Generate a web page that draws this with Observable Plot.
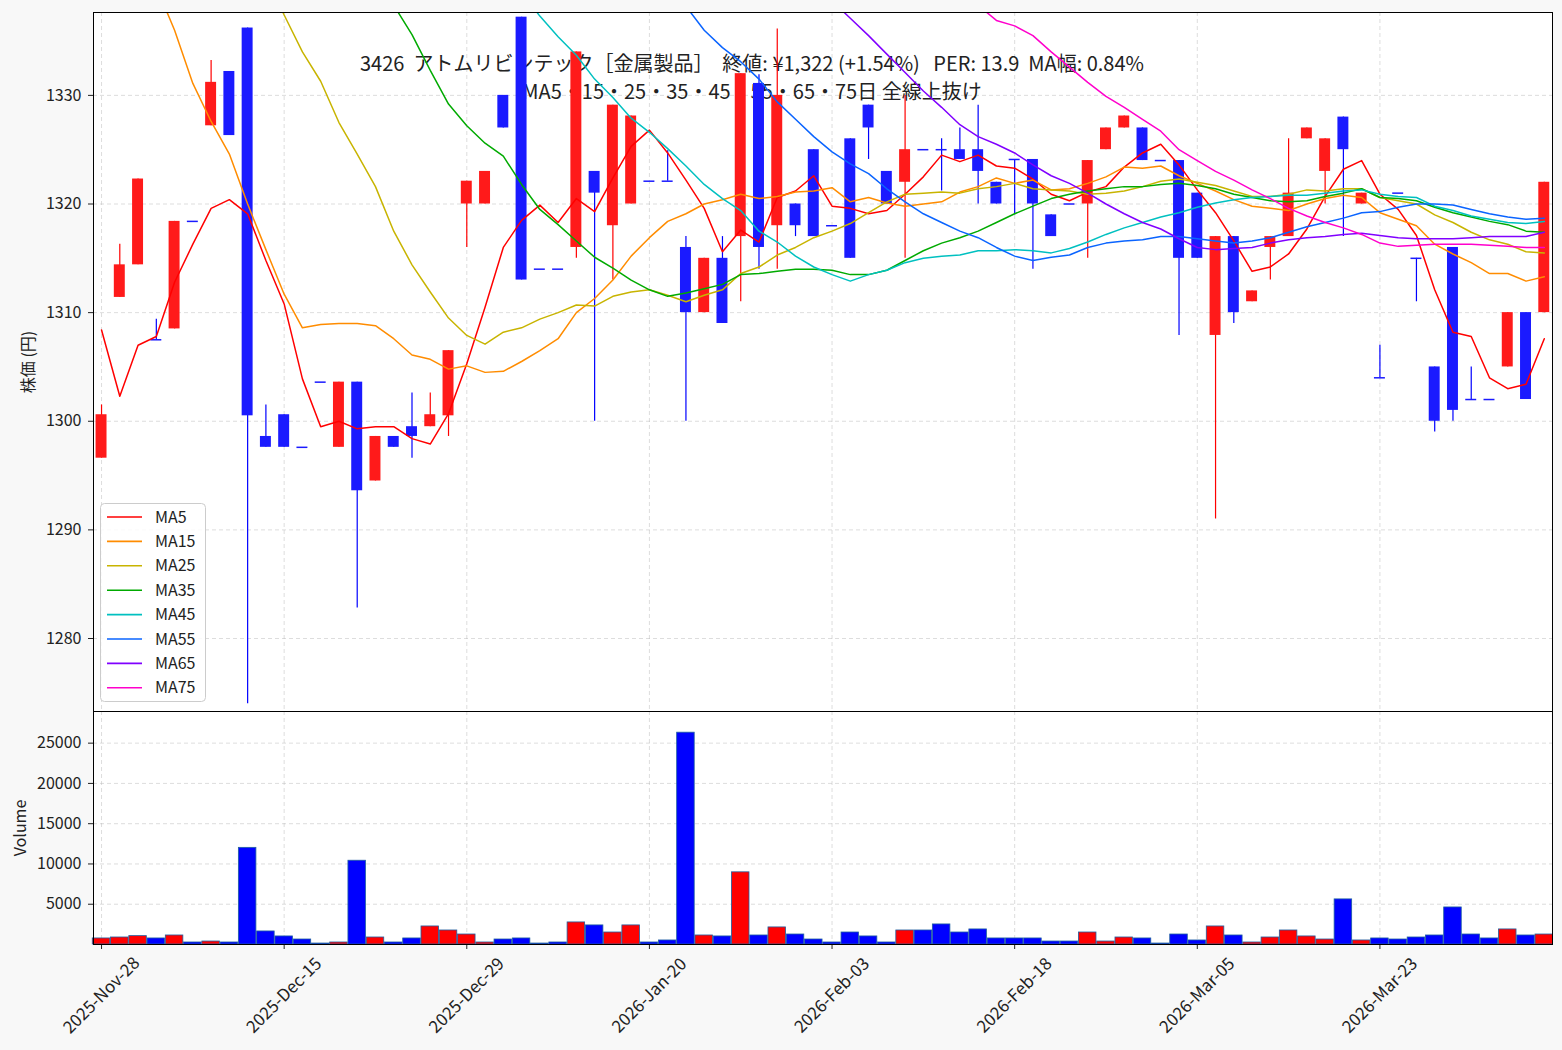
<!DOCTYPE html>
<html><head><meta charset="utf-8">
<script src="https://cdn.jsdelivr.net/npm/d3@7"></script>
<script src="https://cdn.jsdelivr.net/npm/@observablehq/plot@0.6"></script>
<style>
body{margin:0;background:#f8f8f8;font-family:"Noto Sans CJK JP","Noto Sans",sans-serif;}
#wrap{position:relative;width:1562px;height:1050px;overflow:hidden;}
#main,#vol{position:absolute;left:0;}
#main{top:0;}
#vol{top:711px;}
#legend{position:absolute;left:0;top:0;}
svg{overflow:visible;}
</style></head>
<body><div id="wrap"><div id="main"></div><div id="vol"></div><div id="legend"></div></div>
<script>
// ---------- data ----------
const tickIdx = [0, 10, 20, 30, 40, 50, 60, 70];
const tickLabels = ["2025-Nov-28","2025-Dec-15","2025-Dec-29","2026-Jan-20","2026-Feb-03","2026-Feb-18","2026-Mar-05","2026-Mar-23"];
const priceTicks = [1280, 1290, 1300, 1310, 1320, 1330];
const volumeTicks = [5000, 10000, 15000, 20000, 25000];
const titleLine1 = "3426  アトムリビンテック［金属製品］  終値: ¥1,322 (+1.54%)   PER: 13.9  MA幅: 0.84%";
const titleLine2 = "MA5・15・25・35・45・55・65・75日 全線上抜け";

const open = [1296.6,1311.4,1314.4,1307.5,1308.5,1318.4,1327.2,1332.2,1336.2,1298.6,
1300.6,1297.6,1303.6,1297.6,1303.6,1294.5,1298.6,1299.5,1299.5,1300.5,
1320.0,1320.0,1330.0,1337.2,1314,1314,1316,1323,1318,1320,
1322.1,1322.1,1316,1310,1315,1317,1331.1,1318,1320,1325,
1318,1326,1329.1,1323,1322,1325,1325,1325,1325,1322,
1324.1,1324.1,1319,1320,1320,1325,1327,1327,1324,1324,
1321,1307.9,1317,1311,1316,1317,1326,1323,1328,1320,
1304,1321,1315,1305,1316,1302,1302,1305,1310,1310];
const high = [1301.5,1316.3,1322.3,1309.4,1318.4,1318.4,1333.2,1332.2,1336.2,1301.5,
1300.6,1297.6,1303.6,1303.6,1303.6,1298.6,1298.6,1302.6,1302.6,1306.5,
1322.1,1323.0,1330.0,1337.2,1314,1314,1334,1323,1329.1,1328.1,
1322.1,1324.9,1317,1315,1317,1332,1331.9,1336.1,1320,1325,
1318,1326,1329.1,1323,1330,1325,1326,1327,1329.1,1322,
1324.1,1324.1,1319,1320,1324,1327,1328.1,1327,1324,1324,
1321,1317,1317,1312,1317,1326,1327,1326,1328,1321,
1307,1321,1315,1305,1316,1305,1302,1310,1310,1322];
const low = [1296.6,1311.4,1314.4,1307.5,1308.5,1318.4,1327.2,1326.3,1274.0,1297.6,
1297.6,1297.6,1303.6,1297.6,1282.8,1294.5,1297.6,1296.6,1299.5,1298.6,
1316.0,1320.0,1327.0,1313.0,1314,1314,1315,1300,1313,1320,
1322.1,1322.1,1300,1310,1309,1311,1314,1314,1317,1317,
1318,1315,1324.1,1320,1315,1325,1321.2,1324.1,1320,1320,
1319,1314,1317,1320,1315,1325,1327,1324,1324,1307.9,
1315,1291,1309,1311,1313,1317,1326,1320,1317,1320,
1304,1321,1311,1299,1300,1302,1302,1305,1302,1310];
const close = [1300.6,1314.4,1322.3,1307.5,1318.4,1318.4,1331.2,1326.3,1300.5,1297.6,
1297.6,1297.6,1303.6,1303.6,1293.6,1298.6,1297.6,1298.6,1300.6,1306.5,
1322.1,1323.0,1327.0,1313.0,1314,1314,1334,1321,1329.1,1328.1,
1322.1,1322.1,1310,1315,1309,1332,1316,1330,1318,1317,
1318,1315,1327,1320,1325,1325,1325,1324.1,1323,1320,
1324.1,1320,1317,1320,1324,1327,1328.1,1324,1324,1315,
1315,1317,1310,1312,1317,1321,1327,1326,1325,1321,
1304,1321,1315,1300,1301,1302,1302,1310,1302,1322];
const volume = [750,870,1040,750,1120,250,370,250,12000,1620,
1000,620,120,250,10400,870,250,750,2240,1740,
1240,250,620,750,120,250,2740,2370,1490,2370,
250,500,26300,1120,1000,8960,1120,2120,1240,620,
250,1490,1000,250,1740,1740,2490,1490,1870,750,
750,750,370,370,1490,370,870,750,120,1240,
500,2240,1120,250,870,1740,1000,620,5600,500,
750,620,870,1120,4600,1240,750,1870,1120,1240];

const N = null;
const ma5 = [1308.4,1302.3,1307.0,1307.8,1312.8,1316.3,1319.6,1320.4,1319.1,1314.8,
1310.8,1303.9,1299.5,1300.0,1299.3,1299.5,1299.5,1298.4,1297.9,1300.7,
1305.3,1310.5,1316.0,1318.5,1319.9,1318.3,1320.5,1319.3,1322.4,1325.3,
1326.8,1324.7,1322.2,1319.6,1315.6,1317.6,1316.5,1320.6,1321.2,1322.6,
1319.8,1319.6,1319.1,1319.4,1320.9,1322.5,1324.5,1323.9,1324.5,1323.5,
1323.3,1322.3,1320.9,1320.3,1321.1,1321.6,1323.4,1324.7,1325.5,1323.6,
1321.3,1319.2,1316.6,1313.8,1314.2,1315.4,1317.7,1320.7,1323.2,1324.0,
1320.9,1319.5,1317.1,1312.1,1308.2,1307.8,1304.0,1303.0,1303.4,1307.6];
const ma15 = [N,N,N,1340.0,1336.0,1331.1,1327.6,1324.6,1320.0,1315.8,
1311.7,1308.6,1308.9,1309.0,1309.0,1308.8,1307.6,1306.1,1305.7,1304.8,
1305.1,1304.5,1304.6,1305.5,1306.5,1307.6,1310.0,1311.3,1313.0,1315.2,
1316.9,1318.4,1319.1,1320.0,1320.4,1320.9,1320.5,1320.7,1321.1,1321.2,
1321.5,1320.2,1320.6,1320.1,1319.8,1320.0,1320.2,1321.1,1321.6,1322.4,
1321.9,1322.2,1321.3,1321.4,1321.9,1322.5,1323.4,1323.3,1323.5,1322.6,
1321.9,1321.2,1320.4,1319.8,1319.6,1319.4,1320.0,1320.5,1320.8,1320.6,
1319.2,1318.6,1318.0,1316.3,1315.4,1314.6,1313.6,1313.6,1312.9,1313.3];
const ma25 = [N,N,N,N,N,N,N,N,N,1341.0,
1337.4,1334.0,1331.3,1327.5,1324.6,1321.6,1317.5,1314.4,1311.9,1309.5,
1307.9,1307.1,1308.2,1308.6,1309.4,1310.0,1310.7,1310.6,1311.5,1311.9,
1312.1,1311.6,1311.0,1311.6,1312.1,1313.6,1314.2,1315.3,1316.0,1316.9,
1317.5,1318.2,1319.2,1320.2,1320.9,1321.0,1321.1,1321.0,1321.4,1321.6,
1321.9,1321.4,1321.3,1321.2,1320.9,1321.0,1321.2,1321.6,1322.1,1322.3,
1322.0,1321.7,1321.2,1320.7,1320.7,1320.9,1321.3,1321.2,1321.4,1321.4,
1320.6,1320.3,1320.0,1319.0,1318.3,1317.4,1316.7,1316.3,1315.6,1315.5];
const ma35 = [N,N,N,N,N,N,N,N,N,N,
N,N,N,N,N,N,1338.3,1335.6,1332.3,1329.2,
1327.2,1325.6,1324.4,1321.8,1319.5,1318.1,1316.6,1315.1,1314.1,1313.0,
1312.1,1311.5,1311.8,1312.2,1312.6,1313.5,1313.6,1313.8,1314.0,1314.0,
1313.9,1313.5,1313.5,1313.9,1314.8,1315.7,1316.4,1316.9,1317.5,1318.3,
1319.1,1319.8,1320.5,1320.9,1321.2,1321.4,1321.6,1321.6,1321.8,1321.9,
1321.7,1321.4,1320.9,1320.6,1320.3,1320.2,1320.3,1320.7,1321.0,1321.4,
1320.6,1320.5,1320.3,1319.7,1319.2,1318.8,1318.4,1318.1,1317.5,1317.4];
const ma45 = [N,N,N,N,N,N,N,N,N,N,
N,N,N,N,N,N,N,N,N,N,
N,N,N,1339.5,1337.3,1335.4,1333.7,1331.5,1329.8,1327.9,
1326.6,1325.1,1323.5,1321.8,1320.5,1319.4,1317.5,1316.5,1315.2,1314.2,
1313.5,1312.9,1313.5,1313.9,1314.6,1315.0,1315.2,1315.3,1315.7,1315.7,
1315.8,1315.7,1315.5,1315.9,1316.5,1317.2,1317.8,1318.3,1318.8,1319.2,
1319.7,1320.1,1320.4,1320.6,1320.7,1320.8,1320.8,1321.0,1321.2,1321.3,
1320.9,1320.7,1320.6,1319.8,1319.4,1318.9,1318.6,1318.3,1318.2,1318.4];
const ma55 = [N,N,N,N,N,N,N,N,N,N,
N,N,N,N,N,N,N,N,N,N,
N,N,N,N,N,N,N,N,N,N,
N,N,1338.2,1336.0,1334.4,1333.1,1331.5,1329.4,1327.8,1326.2,
1324.8,1323.7,1322.8,1321.4,1320.2,1319.1,1318.3,1317.5,1316.9,1316.0,
1315.2,1314.8,1315.1,1315.3,1316.0,1316.4,1316.6,1316.7,1317.0,1317.0,
1316.8,1316.6,1316.4,1316.6,1316.9,1317.4,1317.9,1318.3,1318.7,1319.2,
1319.3,1319.7,1320.0,1320.0,1319.9,1319.5,1319.1,1318.8,1318.6,1318.7];
const ma65 = [N,N,N,N,N,N,N,N,N,N,
N,N,N,N,N,N,N,N,N,N,
N,N,N,N,N,N,N,N,N,N,
N,N,N,N,N,N,N,N,N,N,
1338.7,1337.1,1335.5,1333.8,1332.1,1330.4,1328.9,1327.3,1326.2,1325.5,
1324.7,1323.6,1322.6,1321.9,1321.0,1320.0,1319.1,1318.3,1317.7,1316.8,
1316.0,1315.8,1315.9,1316.0,1316.4,1316.7,1316.9,1317.0,1317.2,1317.3,
1317.1,1316.9,1316.8,1316.8,1316.8,1316.9,1317.0,1317.0,1317.0,1317.4];
const ma75 = [N,N,N,N,N,N,N,N,N,N,
N,N,N,N,N,N,N,N,N,N,
N,N,N,N,N,N,N,N,N,N,
N,N,N,N,N,N,N,N,N,N,
N,N,N,N,N,N,N,N,1338.3,1336.9,
1336.4,1335.5,1334.0,1332.6,1331.2,1329.9,1328.9,1327.8,1326.7,1325.0,
1324.0,1323.0,1322.2,1321.3,1320.5,1319.6,1318.9,1318.3,1317.8,1317.2,
1316.4,1316.1,1316.2,1316.3,1316.3,1316.3,1316.2,1316.1,1316.0,1316.0];

const maNames = ["MA5","MA15","MA25","MA35","MA45","MA55","MA65","MA75"];
const maSeries = [ma5, ma15, ma25, ma35, ma45, ma55, ma65, ma75];
const maColors = ["#ff0000","#ff8c00","#c8b400","#00aa00","#00c0c0","#0a64ff","#8000ff","#ff00cc"];

// ---------- build ----------
const FONT = '"Noto Sans CJK JP","Noto Sans",sans-serif';
const xDomain = [-0.44, 79.45];
const candles = close.map((c, i) => ({i, o: open[i], h: high[i], l: low[i], c, v: volume[i]}));
const up = candles.filter(d => d.c > d.o);
const dn = candles.filter(d => !(d.c > d.o));
const labelOf = new Map(tickIdx.map((t, k) => [t, tickLabels[k]]));
const gridStyle = {stroke: "#b8b8b8", strokeOpacity: 0.6, strokeDasharray: "4,3", strokeWidth: 0.8};
const UP = "#ff1a1a", DN = "#1a1aff";
const plain = d => String(d);

function candleMarks(data, fill, wick) {
  return [
    Plot.ruleX(data, {x: "i", y1: "l", y2: "h", stroke: wick, strokeWidth: 1.2}),
    Plot.rect(data, {x1: d => d.i - 0.3, x2: d => d.i + 0.3,
      y1: d => Math.min(d.o, d.c), y2: d => Math.max(d.o, d.c), fill}),
    Plot.ruleY(data.filter(d => d.o === d.c), {y: "c", x1: d => d.i - 0.3, x2: d => d.i + 0.3, stroke: fill, strokeWidth: 1.5})
  ];
}

const titleStyle = {frameAnchor: "top", dx: -71, fontSize: 20, lineAnchor: "middle", fill: "#222", fontFamily: FONT};

const mainPlot = Plot.plot({
  width: 1562, height: 711,
  marginTop: 12, marginBottom: 0, marginLeft: 93, marginRight: 10,
  style: {fontFamily: FONT, fontSize: "16px", color: "#222", background: "transparent", overflow: "visible"},
  x: {domain: xDomain, axis: null},
  y: {domain: [1273.28, 1337.63]},
  marks: [
    Plot.frame({fill: "white"}),
    Plot.gridY(priceTicks, gridStyle),
    Plot.gridX(tickIdx, gridStyle),
    Plot.axisY(priceTicks, {tickSize: 5, tickPadding: 7, fontSize: 16, tickFormat: plain, label: "株価 (円)", labelAnchor: "center", labelArrow: "none", labelOffset: 71}),
    Plot.text([titleLine1], {...titleStyle, dy: 52}),
    Plot.text([titleLine2], {...titleStyle, dy: 80}),
    ...candleMarks(up, UP, "#ff0000"),
    ...candleMarks(dn, DN, "#0000ff"),
    ...maSeries.map((s, k) => Plot.line(s.map((v, i) => ({i, v})).filter(d => d.v != null),
      {x: "i", y: "v", stroke: maColors[k], strokeWidth: 1.5, clip: true})),
    Plot.frame({stroke: "black", strokeWidth: 1})
  ]
});
document.getElementById("main").append(mainPlot);

const volPlot = Plot.plot({
  width: 1562, height: 339,
  marginTop: 0, marginBottom: 106, marginLeft: 93, marginRight: 10,
  style: {fontFamily: FONT, fontSize: "16px", color: "#222", background: "transparent", overflow: "visible"},
  x: {domain: xDomain},
  y: {domain: [0, d3.max(volume) * 1.1]},
  marks: [
    Plot.frame({fill: "white"}),
    Plot.gridY(volumeTicks, gridStyle),
    Plot.gridX(tickIdx, gridStyle),
    Plot.rect(up, {x1: d => d.i - 0.48, x2: d => d.i + 0.48, y1: 0, y2: "v", fill: "#ff0000", stroke: "#1f5fa0", strokeWidth: 0.8}),
    Plot.rect(dn, {x1: d => d.i - 0.48, x2: d => d.i + 0.48, y1: 0, y2: "v", fill: "#0000ff", stroke: "#1f5fa0", strokeWidth: 0.8}),
    Plot.axisY(volumeTicks, {tickSize: 5, tickPadding: 7, fontSize: 16, tickFormat: plain, label: "Volume", labelAnchor: "center", labelArrow: "none", labelOffset: 79}),
    Plot.axisX(tickIdx, {tickSize: 5, text: null, label: null}),
    Plot.text(tickIdx, {x: d => d, frameAnchor: "bottom", text: d => labelOf.get(d), rotate: -45,
      textAnchor: "middle", lineAnchor: "middle", dy: 51, fontSize: 17, fill: "#222", fontFamily: FONT}),
    Plot.frame({stroke: "black", strokeWidth: 1})
  ]
});
document.getElementById("vol").append(volPlot);

// ---------- legend ----------
const lg = d3.select("#legend").append("svg").attr("width", 1562).attr("height", 1050)
  .style("position", "absolute").style("left", "0px").style("top", "0px").style("pointer-events", "none");
lg.append("rect").attr("x", 100.5).attr("y", 503.5).attr("width", 105).attr("height", 198)
  .attr("rx", 4).attr("fill", "white").attr("fill-opacity", 0.85).attr("stroke", "#cccccc");
maNames.forEach((n, k) => {
  const y = 517 + k * 24.4;
  lg.append("line").attr("x1", 107).attr("x2", 142).attr("y1", y).attr("y2", y)
    .attr("stroke", maColors[k]).attr("stroke-width", 1.6);
  lg.append("text").attr("x", 155).attr("y", y).attr("dy", "0.35em")
    .attr("font-family", FONT).attr("font-size", 16).attr("fill", "#222").text(n);
});
</script>
</body></html>
